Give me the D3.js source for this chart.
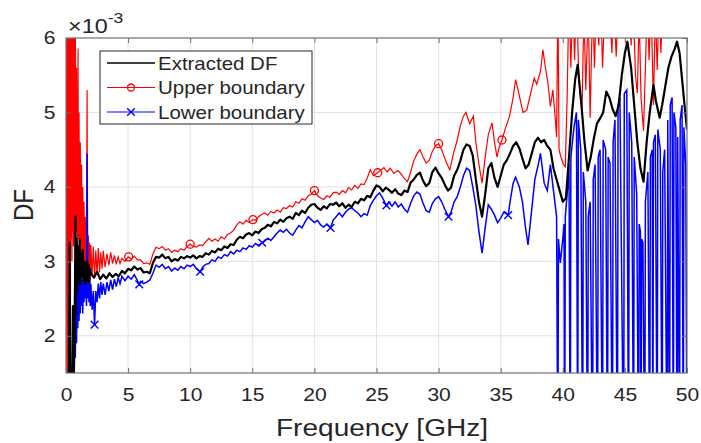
<!DOCTYPE html>
<html>
<head>
<meta charset="utf-8">
<script src="https://cdn.jsdelivr.net/npm/d3@7"></script>
<style>
  body { margin: 0; background: #fff; }
  text { font-family: "Liberation Sans", Arial, sans-serif; fill: #262626; }
</style>
</head>
<body>
<div id="chart"></div>
<script>
// [frequency GHz, DF x1e-3]
const extractedDF = [
  [0,1.0],[0.08,1.35],[0.16,1.1],[0.24,1.4],[0.3,3.25],[0.34,1.3],[0.42,1.45],[0.5,1.2],[0.56,2.4],[0.62,1.4],[0.7,2.0],[0.76,3.6],[0.8,2.3],[0.86,3.3],[0.92,2.6],[0.98,3.2],[1.04,2.75],[1.1,3.3],[1.16,2.7],[1.22,3.1],[1.28,2.8],[1.34,3.15],[1.4,2.75],[1.46,3.0],[1.52,2.7],[1.58,2.98],[1.64,2.72],[1.7,3.0],[1.76,2.75],[1.82,2.95],[1.88,2.72],[1.94,2.9],
  [2,2.84],[2.25,2.78],[2.5,2.86],[2.75,2.76],[3,2.82],[3.25,2.77],[3.5,2.84],[3.75,2.79],[4,2.83],[4.25,2.8],[4.5,2.87],[4.75,2.84],[5,2.9],[5.25,2.88],[5.5,2.93],[5.75,2.89],[6,2.91],[6.25,2.85],[6.5,2.86],[6.75,2.84],[7,2.98],[7.25,3.06],[7.5,3.05],[7.75,3.09],[8,3.04],[8.25,3.06],[8.5,3.0],[8.75,3.03],[9,3.01],[9.25,3.06],[9.5,3.04],[9.75,3.07],
  [10,3.05],[10.25,3.08],[10.5,3.04],[10.75,3.07],[11,3.06],[11.25,3.11],[11.5,3.09],[11.75,3.14],[12,3.12],[12.25,3.17],[12.5,3.15],[12.75,3.2],[13,3.18],[13.25,3.23],[13.5,3.22],[13.75,3.29],[14,3.33],[14.25,3.31],[14.5,3.36],[14.75,3.38],[15,3.35],[15.25,3.4],[15.5,3.38],[15.75,3.43],[16,3.45],[16.25,3.49],[16.5,3.47],[16.75,3.53],[17,3.51],[17.25,3.56],[17.5,3.53],[17.75,3.58],[18,3.6],[18.25,3.57],[18.5,3.65],[18.75,3.62],[19,3.68],[19.25,3.65],[19.5,3.72],[19.75,3.76],
  [20,3.77],[20.25,3.72],[20.5,3.69],[20.75,3.74],[21,3.71],[21.25,3.77],[21.5,3.76],[21.75,3.79],[22,3.74],[22.25,3.78],[22.5,3.72],[22.75,3.76],[23,3.73],[23.25,3.8],[23.5,3.78],[23.75,3.84],[24,3.82],[24.25,3.88],[24.5,3.86],[24.75,3.95],[25,4.02],[25.25,4.0],[25.5,3.94],[25.75,3.99],[26,3.96],[26.25,3.92],[26.5,3.97],[26.75,3.91],[27,3.89],[27.25,3.95],[27.5,3.93],[27.75,4.06],[28,4.1],[28.25,4.16],[28.5,4.19],[28.75,4.08],[29,4.01],[29.25,4.05],[29.5,4.2],[29.75,4.26],
  [30,4.18],[30.25,4.12],[30.5,4.03],[30.75,3.95],[31,3.99],[31.25,4.15],[31.5,4.23],[31.75,4.35],[32,4.5],[32.25,4.57],[32.5,4.55],[32.75,4.42],[33,4.1],[33.25,3.8],[33.5,3.6],[33.75,3.9],[34,4.25],[34.25,4.32],[34.5,4.12],[34.75,4.0],[35,4.15],[35.25,4.3],[35.5,4.36],[35.75,4.45],[36,4.55],[36.25,4.6],[36.5,4.52],[36.75,4.38],[37,4.25],[37.25,4.3],[37.5,4.45],[37.75,4.6],[38,4.66],[38.25,4.6],[38.5,4.63],[38.75,4.55],[39,4.5],[39.25,4.25],[39.5,4.1],[39.75,3.95],
  [40,3.8],[40.25,3.85],[40.5,4.4],[40.75,5.0],[41,5.45],[41.2,5.64],[41.5,5.1],[41.75,4.6],[42,4.22],[42.25,4.4],[42.5,4.65],[42.75,4.85],[43,4.92],[43.25,5.0],[43.5,5.28],[43.75,5.2],[44,5.05],[44.25,4.95],[44.5,5.1],[44.75,5.5],[45,5.8],[45.2,5.95],[45.5,5.6],[45.75,5.1],[46,4.6],[46.25,4.25],[46.5,4.07],[46.75,4.6],[47,5.0],[47.3,5.37],[47.5,5.15],[47.8,4.93],[48,5.1],[48.25,5.35],[48.5,5.6],[48.75,5.75],[49,5.85],[49.2,5.95],[49.4,5.8],[49.6,5.45],[49.8,5.1],[50,4.77]
]

const upperBound = [
  [0,1.2],[0.03,7],[0.06,2.5],[0.09,7],[0.12,1.0],[0.15,7],[0.18,3.0],[0.21,7],[0.24,1.8],[0.27,7],[0.3,3.2],[0.33,7],[0.36,2.6],[0.39,7],[0.42,3.3],[0.45,7],[0.48,3.0],[0.51,7],[0.54,3.4],[0.57,7],[0.6,3.2],[0.63,7],[0.66,3.5],[0.69,6.6],[0.72,3.3],[0.76,6.0],[0.8,3.4],[0.85,5.6],[0.9,3.2],[0.97,5.86],[1.0,3.3],[1.05,5.0],[1.1,3.1],[1.15,4.6],[1.2,3.0],[1.25,4.3],[1.3,3.05],[1.35,4.0],[1.4,2.9],[1.45,3.8],[1.5,2.95],[1.55,3.6],[1.6,2.85],[1.65,3.4],[1.7,5.3],[1.73,2.9],[1.8,3.35],[1.85,2.8],[1.9,3.25],[1.95,2.85],
  [2,3.22],[2.1,2.8],[2.2,3.2],[2.3,2.78],[2.4,3.15],[2.5,2.82],[2.6,3.18],[2.7,2.85],[2.8,3.12],[2.9,2.9],[3,3.14],[3.15,2.92],[3.3,3.1],[3.45,2.95],[3.6,3.12],[3.75,2.97],[3.9,3.08],[4.05,2.96],[4.2,3.06],[4.35,2.97],[4.5,3.04],[4.75,3.0],
  [5,3.06],[5.25,3.03],[5.5,3.07],[5.75,3.02],[6,3.02],[6.25,2.97],[6.5,2.98],[6.75,2.96],[7,3.1],[7.25,3.19],[7.5,3.17],[7.75,3.2],[8,3.15],[8.25,3.17],[8.5,3.12],[8.75,3.15],[9,3.13],[9.25,3.17],[9.5,3.15],[9.75,3.2],
  [10,3.23],[10.25,3.2],[10.5,3.19],[10.75,3.22],[11,3.21],[11.25,3.26],[11.5,3.31],[11.75,3.27],[12,3.3],[12.25,3.27],[12.5,3.33],[12.75,3.3],[13,3.36],[13.25,3.38],[13.5,3.42],[13.75,3.49],[14,3.53],[14.25,3.5],[14.5,3.55],[14.75,3.52],[15.05,3.56],[15.25,3.55],[15.5,3.6],[15.75,3.63],[16,3.65],[16.25,3.62],[16.5,3.67],[16.75,3.65],[17,3.69],[17.25,3.66],[17.5,3.72],[17.75,3.71],[18,3.75],[18.25,3.73],[18.5,3.8],[18.75,3.78],[19,3.84],[19.25,3.82],[19.5,3.88],[19.75,3.9],
  [20,3.95],[20.25,3.88],[20.5,3.85],[20.75,3.83],[21,3.88],[21.25,3.86],[21.5,3.92],[21.75,3.93],[22,3.9],[22.25,3.95],[22.5,3.92],[22.75,3.99],[23,3.96],[23.25,4.02],[23.5,3.98],[23.75,4.04],[24,4.03],[24.25,4.12],[24.5,4.23],[24.75,4.15],[25.1,4.19],[25.3,4.22],[25.6,4.26],[25.85,4.2],[26.1,4.25],[26.4,4.18],[26.7,4.22],[26.9,4.19],[27.2,4.12],[27.5,4.07],[27.75,4.2],[28,4.35],[28.25,4.44],[28.5,4.5],[28.75,4.4],[29,4.32],[29.25,4.36],[29.5,4.48],[29.75,4.55],
  [30,4.58],[30.25,4.5],[30.5,4.38],[30.75,4.28],[30.9,4.23],[31.2,4.45],[31.5,4.63],[31.75,4.82],[32,4.95],[32.2,5.0],[32.5,4.85],[32.8,4.95],[33,4.6],[33.25,4.3],[33.5,4.05],[33.75,4.4],[34,4.7],[34.3,4.86],[34.5,4.6],[34.7,4.4],[34.9,4.55],[35.1,4.63],[35.4,4.8],[35.7,4.94],[36,5.2],[36.2,5.44],[36.4,5.3],[36.6,5.15],[36.8,5.0],[37.1,5.03],[37.4,5.25],[37.7,5.46],[37.9,5.38],[38.2,5.55],[38.4,5.84],[38.6,5.6],[38.8,5.4],[39,5.08],[39.2,5.3],[39.4,4.9],[39.5,4.67],[39.6,6.6],[39.7,4.5],[39.85,4.4],
  [40.05,4.3],[40.2,4.27],[40.35,5.2],[40.5,6.6],[40.65,5.6],[40.8,6.6],[40.95,5.7],[41.1,6.6],[41.3,5.4],[41.55,5.03],[41.7,6.4],[41.85,5.3],[42.05,6.4],[42.2,4.93],[42.4,6.5],[42.55,5.6],[42.7,6.5],[42.9,5.9],[43.05,6.6],[43.2,5.6],[43.4,6.5],[43.6,6.1],[43.75,6.6],[43.95,5.8],[44.1,6.5],[44.3,5.75],[44.5,6.6],[44.7,6.0],[44.9,6.6],[45.1,6.3],[45.3,6.6],[45.5,5.9],[45.65,6.6],[45.85,5.5],[46,5.26],[46.15,6.3],[46.3,5.2],[46.5,4.75],[46.65,5.6],[46.8,6.5],[46.95,5.7],[47.1,6.5],[47.3,5.1],[47.45,6.4],[47.6,5.57],[47.75,6.5],[47.9,5.8],[48.05,6.6],[48.2,6.1],[48.4,6.6],[48.6,6.8],[50,6.8]
]

const lowerBound = [
  [0,0.5],[0.1,1.2],[0.2,0.8],[0.3,1.4],[0.4,1.0],[0.5,1.6],[0.55,1.2],[0.6,2.2],[0.65,1.4],[0.7,2.6],[0.75,1.7],[0.8,2.9],[0.85,1.9],[0.9,2.7],[0.95,2.1],[1.0,3.0],[1.05,2.2],[1.1,2.8],[1.15,2.3],[1.2,2.9],[1.25,2.4],[1.3,2.75],[1.35,2.3],[1.4,2.85],[1.45,2.45],[1.5,2.9],[1.55,2.5],[1.6,2.8],[1.65,2.4],[1.7,4.45],[1.75,2.5],[1.8,2.85],[1.85,2.45],[1.9,2.8],[1.95,2.4],
  [2,2.7],[2.1,2.35],[2.2,2.6],[2.3,2.15],[2.4,2.6],[2.5,2.45],[2.6,2.7],[2.7,2.5],[2.8,2.72],[2.9,2.55],[3,2.7],[3.15,2.55],[3.3,2.72],[3.45,2.6],[3.6,2.75],[3.75,2.62],[3.9,2.76],[4.05,2.66],[4.2,2.78],[4.35,2.7],[4.5,2.8],[4.75,2.74],
  [5,2.8],[5.25,2.76],[5.5,2.82],[5.75,2.74],[5.9,2.69],[6,2.73],[6.25,2.7],[6.5,2.72],[6.75,2.75],[7,2.84],[7.25,2.95],[7.5,2.92],[7.75,2.96],[8,2.9],[8.25,2.93],[8.5,2.87],[8.75,2.91],[9,2.88],[9.25,2.93],[9.5,2.9],[9.75,2.95],
  [10,2.93],[10.25,2.96],[10.5,2.9],[10.8,2.86],[11,2.92],[11.25,2.96],[11.5,2.97],[11.75,3.02],[12,3.0],[12.25,3.06],[12.5,3.04],[12.75,3.09],[13,3.07],[13.25,3.13],[13.5,3.1],[13.75,3.15],[14,3.13],[14.25,3.18],[14.5,3.16],[14.75,3.21],[15,3.19],[15.25,3.24],[15.5,3.21],[15.8,3.25],[16,3.27],[16.25,3.31],[16.5,3.28],[16.75,3.33],[17,3.38],[17.25,3.42],[17.5,3.39],[17.75,3.43],[18,3.38],[18.25,3.35],[18.5,3.42],[18.75,3.48],[19,3.45],[19.25,3.53],[19.5,3.6],[19.75,3.56],
  [20,3.52],[20.25,3.55],[20.5,3.49],[20.75,3.46],[21,3.5],[21.3,3.45],[21.5,3.55],[21.75,3.6],[22,3.65],[22.25,3.6],[22.5,3.66],[22.75,3.7],[23,3.72],[23.25,3.68],[23.5,3.65],[23.75,3.6],[24,3.64],[24.25,3.62],[24.5,3.75],[24.75,3.82],[25,3.88],[25.25,3.92],[25.5,3.85],[25.8,3.75],[26,3.8],[26.25,3.74],[26.5,3.8],[26.75,3.73],[27,3.77],[27.25,3.7],[27.5,3.66],[27.75,3.78],[28,3.88],[28.25,3.93],[28.5,3.9],[28.75,3.78],[29,3.68],[29.25,3.66],[29.5,3.78],[29.75,3.84],
  [30,3.87],[30.25,3.8],[30.5,3.7],[30.8,3.6],[31,3.66],[31.25,3.8],[31.5,3.87],[31.75,4.0],[32,4.15],[32.25,4.25],[32.5,4.22],[32.75,4.0],[33,3.75],[33.25,3.4],[33.5,3.11],[33.75,3.45],[34,3.76],[34.25,3.7],[34.5,3.62],[34.75,3.52],[35,3.58],[35.25,3.66],[35.6,3.62],[35.8,3.85],[36,4.05],[36.2,4.13],[36.5,4.0],[36.75,3.8],[37,3.45],[37.2,3.22],[37.5,3.7],[37.75,4.1],[38,4.28],[38.2,4.45],[38.5,4.05],[38.75,3.95],[39,4.3],[39.25,3.95],[39.5,3.6],[39.6,0],[39.65,3.3],[39.8,2.98],
  [40,3.3],[40.1,3.5],[40.15,0],[40.2,3.6],[40.35,3.9],[40.5,4.3],[40.6,0],[40.65,4.4],[40.9,4.8],[41.1,5.0],[41.2,0],[41.25,4.9],[41.45,4.5],[41.6,0],[41.65,4.2],[41.85,3.8],[42,0],[42.05,3.6],[42.2,3.8],[42.4,0],[42.45,4.1],[42.6,4.3],[42.8,0],[42.85,4.4],[43,4.5],[43.2,0],[43.25,4.63],[43.45,4.5],[43.6,0],[43.65,4.4],[43.8,4.32],[44,0],[44.05,4.6],[44.2,4.9],[44.4,0],[44.45,5.1],[44.6,5.2],[44.9,0],[44.95,5.25],[45.15,5.3],[45.3,0],[45.35,5.0],[45.55,4.6],[45.7,0],[45.75,4.4],[45.95,3.9],[46.1,0],[46.15,3.5],[46.25,3.4],[46.3,0],[46.35,3.3],[46.45,3.25],[46.6,0],[46.65,3.8],[46.85,4.2],[47,0],[47.05,4.4],[47.2,4.5],[47.25,0],[47.3,4.6],[47.45,4.7],[47.6,0],[47.65,4.77],[47.85,4.5],[48,0],[48.05,4.2],[48.2,4.5],[48.4,0],[48.45,4.9],[48.6,0],[48.65,5.1],[48.8,5.2],[48.9,0],[48.95,5.0],[49.1,4.8],[49.2,0],[49.25,4.67],[49.4,0],[49.45,4.9],[49.6,5.1],[49.7,0],[49.75,4.8],[49.9,4.3],[50,0]
]

const upperMarks = [[5.05,3.06],[10,3.23],[15.05,3.56],[20,3.95],[25.1,4.19],[30,4.58],[35.1,4.63]]
const lowerMarks = [[2.3,2.15],[5.9,2.69],[10.8,2.86],[15.8,3.25],[21.3,3.45],[25.8,3.75],[30.8,3.6],[35.6,3.62]]

const xTicks = [0, 5, 10, 15, 20, 25, 30, 35, 40, 45, 50]
const yTicks = [2, 3, 4, 5, 6]
const legendLabels = ['Extracted DF', 'Upper boundary', 'Lower boundary']
const legendColors = ['#000000', '#ff0000', '#0000ff']

const width = 701
const height = 443
const margin = { top: 38, right: 14, bottom: 70, left: 66 }
const stretch = 1.17

const svg = d3.select('#chart').append('svg')
    .attr('width', width)
    .attr('height', height)

const x = d3.scaleLinear().domain([0, 50]).range([margin.left, width - margin.right])
const y = d3.scaleLinear().domain([1.5, 6]).range([height - margin.bottom, margin.top])

svg.append('clipPath').attr('id', 'plot-clip')
    .append('rect')
    .attr('x', x(0)).attr('y', y(6))
    .attr('width', x(50) - x(0)).attr('height', y(1.5) - y(6))

// grid
svg.append('g').selectAll('line')
    .data(xTicks.slice(1, -1))
    .enter().append('line')
    .attr('x1', (d) => x(d)).attr('x2', (d) => x(d))
    .attr('y1', y(1.5)).attr('y2', y(6))
    .attr('stroke', '#e2e2e2')
svg.append('g').selectAll('line')
    .data(yTicks.slice(0, -1))
    .enter().append('line')
    .attr('x1', x(0)).attr('x2', x(50))
    .attr('y1', (d) => y(d)).attr('y2', (d) => y(d))
    .attr('stroke', '#e2e2e2')

const line = d3.line()
    .x((d) => x(d[0]))
    .y((d) => y(d[1]))

const plot = svg.append('g').attr('clip-path', 'url(#plot-clip)')

plot.append('path').datum(upperBound)
    .attr('d', line).attr('fill', 'none')
    .attr('stroke', '#ff0000').attr('stroke-width', 1.2)
plot.append('path').datum(lowerBound)
    .attr('d', line).attr('fill', 'none')
    .attr('stroke', '#0000ff').attr('stroke-width', 1.5)
plot.append('path').datum(extractedDF)
    .attr('d', line).attr('fill', 'none')
    .attr('stroke', '#000000').attr('stroke-width', 2.2)
    .attr('stroke-linejoin', 'round')

plot.selectAll('.umark')
    .data(upperMarks)
    .enter().append('circle')
    .attr('class', 'umark')
    .attr('cx', (d) => x(d[0])).attr('cy', (d) => y(d[1]))
    .attr('r', 4).attr('fill', 'none')
    .attr('stroke', '#ff0000').attr('stroke-width', 1.3)

const cross = d3.symbol().type(d3.symbolX).size(40)
plot.selectAll('.lmark')
    .data(lowerMarks)
    .enter().append('path')
    .attr('class', 'lmark')
    .attr('transform', (d) => 'translate(' + x(d[0]) + ',' + y(d[1]) + ')')
    .attr('d', cross).attr('fill', 'none')
    .attr('stroke', '#0000ff').attr('stroke-width', 1.4)

// axes with inward ticks
svg.append('g')
    .attr('transform', 'translate(0,' + y(1.5) + ')')
    .call(d3.axisBottom(x).tickValues(xTicks).tickSizeInner(-5).tickSizeOuter(0).tickPadding(15).tickFormat(d3.format('d')))
svg.append('g')
    .attr('transform', 'translate(0,' + y(6) + ')')
    .call(d3.axisTop(x).tickValues(xTicks).tickSizeInner(-5).tickSizeOuter(0).tickFormat(''))
svg.append('g')
    .attr('transform', 'translate(' + x(0) + ',0)')
    .call(d3.axisLeft(y).tickValues(yTicks).tickSizeInner(-5).tickSizeOuter(0).tickPadding(9).tickFormat(d3.format('d')))
svg.append('g')
    .attr('transform', 'translate(' + x(50) + ',0)')
    .call(d3.axisRight(y).tickValues(yTicks).tickSizeInner(-5).tickSizeOuter(0).tickFormat(''))

svg.selectAll('.domain').remove()
svg.selectAll('.tick line').attr('stroke', '#707070')
svg.selectAll('.tick text')
    .attr('font-size', 18)
    .attr('font-family', '"Liberation Sans", Arial, sans-serif')
    .attr('fill', '#262626')
    .attr('transform', 'scale(' + stretch + ',1)')

svg.append('rect')
    .attr('x', x(0)).attr('y', y(6))
    .attr('width', x(50) - x(0)).attr('height', y(1.5) - y(6))
    .attr('fill', 'none').attr('stroke', '#707070').attr('stroke-width', 1.2)

// exponent label
const expo = svg.append('text')
    .attr('transform', 'translate(' + (x(0) + 2) + ',33) scale(' + stretch + ',1)')
    .attr('font-size', 20)
expo.append('tspan').text('×10')
expo.append('tspan').attr('font-size', 15).attr('dy', -10).text('-3')

// axis titles
svg.append('text')
    .attr('transform', 'translate(' + 382 + ',436) scale(' + stretch + ',1)')
    .attr('text-anchor', 'middle')
    .attr('font-size', 24)
    .text('Frequency [GHz]')
svg.append('text')
    .attr('transform', 'translate(33,' + 205 + ') rotate(-90) scale(1,' + stretch + ')')
    .attr('text-anchor', 'middle')
    .attr('font-size', 24)
    .text('DF')

// legend
const legend = svg.append('g')
legend.append('rect')
    .attr('x', 100).attr('y', 51).attr('width', 212).attr('height', 73)
    .attr('fill', '#fff').attr('stroke', '#262626').attr('stroke-width', 1)
const rows = legend.selectAll('.row')
    .data(legendLabels)
    .enter().append('g')
    .attr('class', 'row')
    .attr('transform', (d, i) => 'translate(0,' + (63 + i * 24.5) + ')')
rows.append('line')
    .attr('x1', 107).attr('x2', 155)
    .attr('stroke', (d, i) => legendColors[i])
    .attr('stroke-width', (d, i) => i === 0 ? 1.5 : 1.2)
rows.filter((d, i) => i === 1).append('circle')
    .attr('cx', 131).attr('r', 3.5).attr('fill', 'none')
    .attr('stroke', '#ff0000').attr('stroke-width', 1.3)
rows.filter((d, i) => i === 2).append('path')
    .attr('transform', 'translate(131,0)')
    .attr('d', cross).attr('fill', 'none')
    .attr('stroke', '#0000ff').attr('stroke-width', 1.4)
rows.append('text')
    .attr('transform', 'translate(158,6.5) scale(' + stretch + ',1)')
    .attr('font-size', 17.5)
    .text((d) => d)
</script>
</body>
</html>
